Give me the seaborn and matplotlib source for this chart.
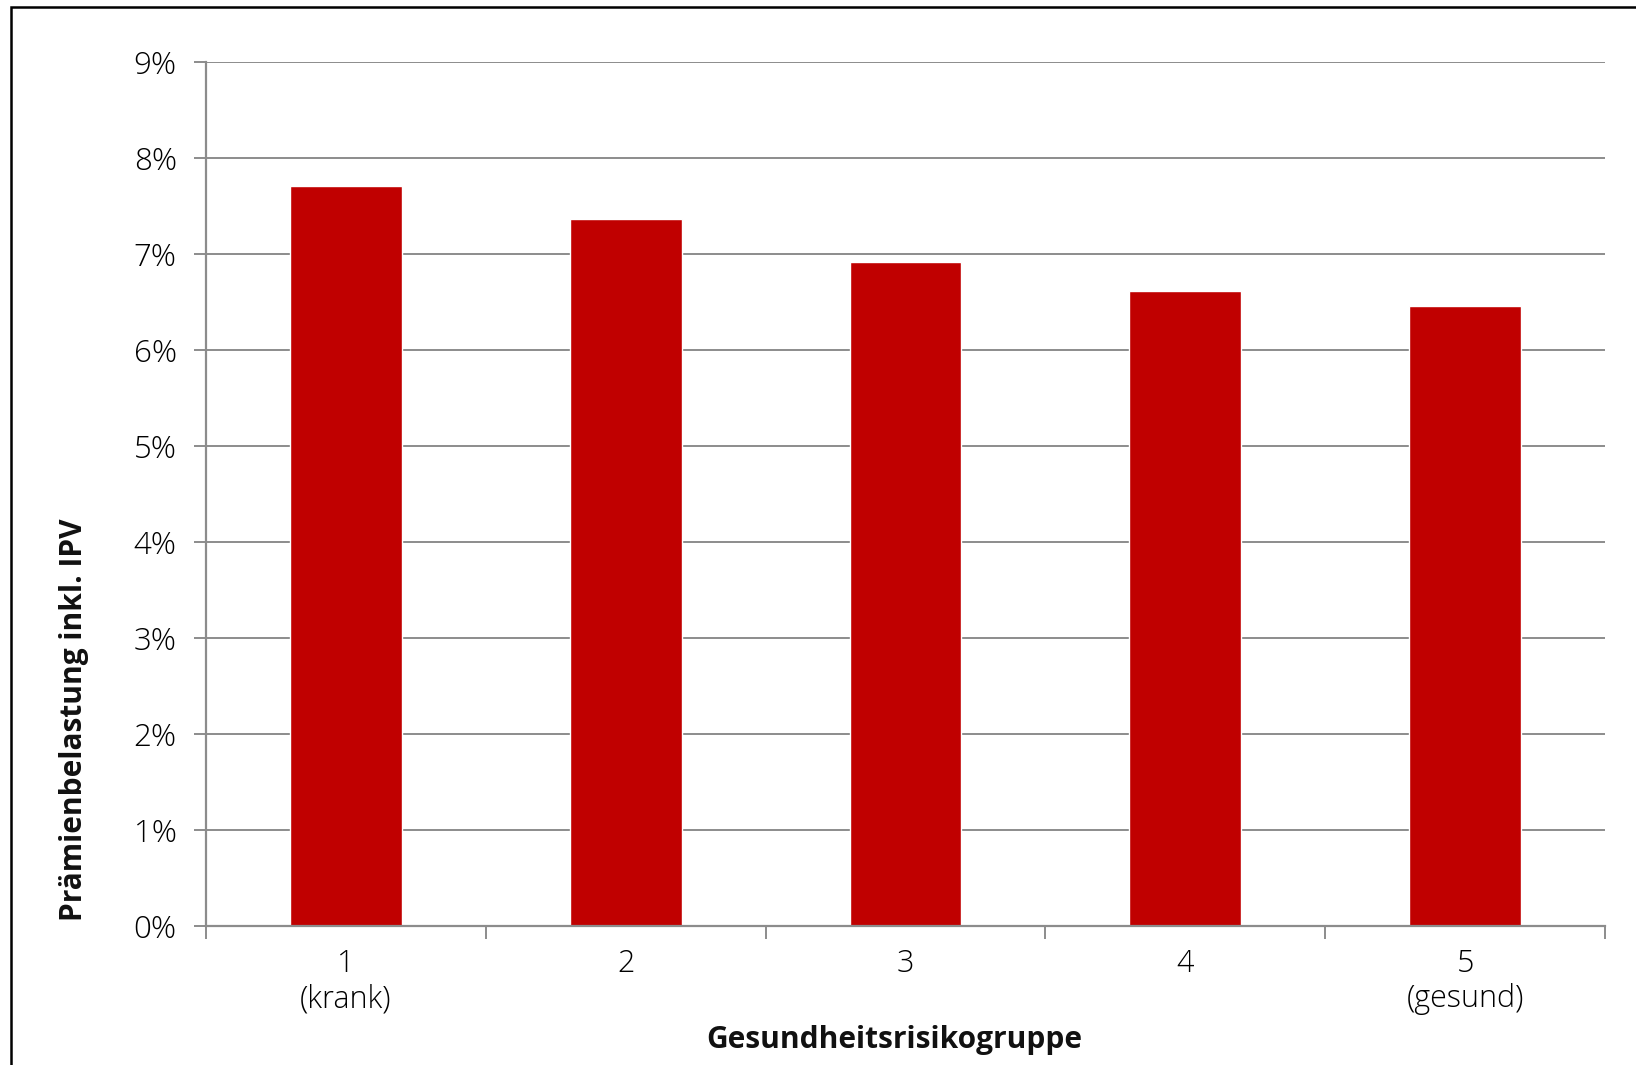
import matplotlib
matplotlib.use("Agg")
import matplotlib.pyplot as plt
from matplotlib.patches import Rectangle
from matplotlib.ticker import FixedLocator, PercentFormatter
import seaborn as sns
import pandas as pd

# Risk groups and premium load (incl. IPV) in percent
groups = ["1\n(krank)", "2", "3", "4", "5\n(gesund)"]
premium_load = [7.71, 7.36, 6.92, 6.61, 6.46]
y_ticks = [0, 1, 2, 3, 4, 5, 6, 7, 8, 9]

sns.set_theme(style="white")
plt.rcParams["font.family"] = ["Open Sans", "DejaVu Sans"]

grid_grey = "#8c8c8c"
bar_red = "#c00000"

df = pd.DataFrame({"group": groups, "load": premium_load})

W, H = 1636, 1065
fig = plt.figure(figsize=(W / 100, H / 100), dpi=100)
ax = fig.add_axes([206 / W, 1 - 925.5 / H, (1605 - 206) / W, (925.5 - 62) / H])

sns.barplot(data=df, x="group", y="load", color=bar_red, width=0.4,
            saturation=1, ax=ax, zorder=3)

ax.set_xlim(-0.5, len(groups) - 0.5)
ax.set_ylim(0, 9)
ax.yaxis.set_major_locator(FixedLocator(y_ticks))
ax.yaxis.set_major_formatter(PercentFormatter(decimals=0))
ax.grid(axis="y", color=grid_grey, linewidth=1.4, zorder=0)
ax.set_axisbelow(True)

for side in ["top", "right"]:
    ax.spines[side].set_visible(False)
for side in ["left", "bottom"]:
    ax.spines[side].set_color(grid_grey)
    ax.spines[side].set_linewidth(1.6)
    ax.spines[side].set_zorder(4)

# category boundaries carry the x tick marks
ax.xaxis.set_minor_locator(FixedLocator([i - 0.5 for i in range(len(groups) + 1)]))
ax.tick_params(axis="x", which="major", length=0, pad=16, labelsize=22,
               labelcolor="#000000")
ax.tick_params(axis="x", which="minor", length=9, width=1.4, color=grid_grey,
               direction="out", bottom=True)
ax.tick_params(axis="y", which="major", length=9, width=1.4, color=grid_grey,
               direction="out", left=True, pad=12, labelsize=22.5,
               labelcolor="#000000")
for lbl in ax.get_xticklabels() + ax.get_yticklabels():
    lbl.set_fontweight("light")
for lbl in ax.get_xticklabels():
    lbl.set_linespacing(1.15)

ax.set_xlabel("")
ax.set_ylabel("")

fig.text(894 / W, 1 - 1040 / H, "Gesundheitsrisikogruppe", ha="center",
         va="center", fontsize=21.5, fontweight="bold", color="#111111")
fig.text(74 / W, 1 - 720 / H, "Prämienbelastung inkl. IPV", ha="center",
         va="center", rotation=90, fontsize=21.5, fontweight="bold",
         color="#111111")

# outer frame
fig.patches.append(Rectangle((11 / W, -0.05), 1.1, 1 - 7 / H + 0.05,
                             transform=fig.transFigure, fill=False,
                             edgecolor="black", linewidth=1.8,
                             clip_on=False))

fig.savefig("out.png", dpi=100, facecolor="white")
